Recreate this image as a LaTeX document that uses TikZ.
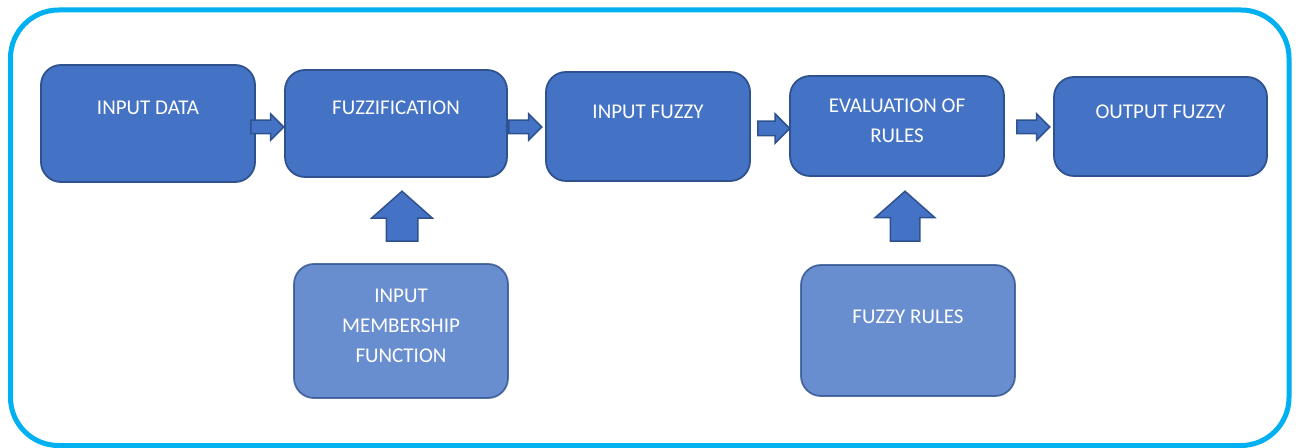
\documentclass[tikz,border=0pt]{standalone}
\usepackage{fontspec}
\setmainfont{Carlito}
\usetikzlibrary{shapes.arrows}
\definecolor{boxfill}{HTML}{4472C4}
\definecolor{boxline}{HTML}{2F528F}
\definecolor{frameblue}{HTML}{00B0F0}
\tikzset{
  box/.style={draw=boxline, fill=boxfill, line width=0.9pt, rounded corners=10pt, inner sep=0pt},
  softbox/.style={box, fill opacity=0.8, draw opacity=0.8},
  lbl/.style={text=white, font=\fontsize{10.5pt}{15pt}\selectfont, align=center, inner sep=0pt},
  harrow/.style={single arrow, draw=boxline, fill=boxfill, line width=0.75pt, inner sep=0pt,
    text height=6pt, text depth=0pt, text width=0pt, single arrow head extend=3.25pt,
    minimum height=16.5pt, anchor=tail},
  varrow/.style={single arrow, draw=boxline, fill=boxfill, line width=0.75pt, inner sep=0pt,
    text height=15pt, text depth=0pt, text width=0pt, single arrow head extend=7.25pt,
    single arrow tip angle=97, minimum height=25pt, rotate=90, anchor=tail}
}
\begin{document}
\begin{tikzpicture}[x=0.5pt, y=-0.5pt]
\useasboundingbox (0,0) rectangle (1300,448);
\draw[frameblue, line width=2.5pt, rounded corners=24pt] (10.5,10) rectangle (1289,445.5);

% top row boxes
\node[box, minimum width=107pt, minimum height=58.5pt] (data) at (148,123.5) {};
\node[box, minimum width=111pt, minimum height=53.5pt] (fuzz) at (396,123.5) {};
\node[box, minimum width=102pt, minimum height=54.5pt] (infz) at (648,126.5) {};
\node[box, minimum width=107pt, minimum height=50pt] (eval) at (897,126) {};
\node[box, minimum width=106.5pt, minimum height=49.5pt] (outf) at (1160.5,126.5) {};
% bottom boxes
\node[softbox, minimum width=107pt, minimum height=67pt] (imf) at (401,331) {};
\node[softbox, minimum width=107pt, minimum height=65.5pt] (rules) at (908,330.5) {};

% labels
\node[lbl] (t1) at (148,108) {INPUT DATA};
\node[lbl] (t2) at (396,108) {FUZZIFICATION};
\node[lbl] (t3) at (648,112) {INPUT FUZZY};
\node[lbl] (t4) at (897,121) {EVALUATION OF\\RULES};
\node[lbl] (t5) at (1160.5,112) {OUTPUT FUZZY};
\node[lbl] (t6) at (401,326) {INPUT\\MEMBERSHIP\\FUNCTION};
\node[lbl] (t7) at (908,317) {FUZZY RULES};

% block arrows
\node[harrow] (a1) at (250,127) {};
\node[harrow] (a2) at (508,127) {};
\node[harrow, text height=6.5pt, single arrow head extend=3.75pt, minimum height=16pt] (a3) at (757,128.5) {};
\node[harrow, minimum height=16.5pt] (a4) at (1016,127) {};
\node[varrow] (a5) at (402,242) {};
\node[varrow, text height=14pt, single arrow head extend=7.5pt] (a6) at (905,242) {};
\end{tikzpicture}
\end{document}
